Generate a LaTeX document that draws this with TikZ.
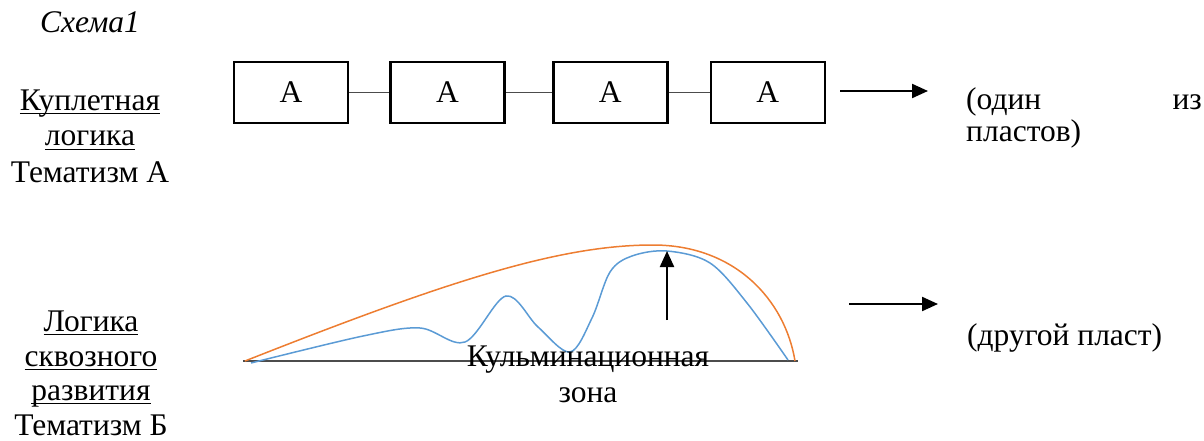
\documentclass[tikz,border=0pt]{standalone}
\usepackage{amsmath}
\usepackage{fontspec}
\setmainfont{Liberation Serif}
\usetikzlibrary{arrows.meta,positioning}

\newcommand{\podch}[1]{\underline{\smash[b]{#1}}}

\begin{document}
\begin{tikzpicture}[x=1pt,y=-1pt,font=\fontsize{31.5}{36}\selectfont,
		>={Triangle[length=16pt,width=14pt]},
		blok/.style={draw,line width=2.6pt,minimum width=114pt,minimum height=61pt,inner sep=0pt},
		svyaz/.style={draw=black!70,line width=1.6pt},
		strelka/.style={->,line width=2.2pt},
		podpis/.style={align=center,inner sep=0pt,anchor=base},
		tekst/.style={inner sep=0pt}]
	\useasboundingbox (0,0) rectangle (1204,441);

			\node[tekst, anchor=base] (shema) at (90,33) {\itshape Схема1};
			\node[podpis] (kuplet) at (90,182) {\podch{Куплетная}\\\podch{логика}\\Тематизм А};
			\node[podpis, font=\fontsize{31.5}{34.5}\selectfont] (skvoz) at (91,435)
				{\podch{Логика}\\\podch{сквозного}\\\podch{развития}\\Тематизм Б};

			\node[blok] (a1) at (291,92.5) {А};
			\node[blok] (a2) [right=40pt of a1] {А};
			\node[blok] (a3) [right=46pt of a2] {А};
			\node[blok] (a4) [right=41pt of a3] {А};

			\draw[svyaz] (a1) -- (a2)
						 (a2) -- (a3)
						 (a3) -- (a4);

			\coordinate (s1) at (840,91);
			\coordinate (s2) at (928,91);
			\draw[strelka] (s1) -- (s2);

			\node[tekst, anchor=base west] (odin) at (966,110) {(один};
			\node[tekst, anchor=base east] (iz) at (1202,110) {из};
			\node[tekst, anchor=base west] (plastov) at (966,142) {пластов)};

			\coordinate (o1) at (243,361);
			\coordinate (o2) at (798,361);
			\draw[svyaz, line width=1.4pt] (o1) -- (o2);

			\draw[color={rgb,255:red,237;green,125;blue,49}, line width=1.5pt]
				(245,361) .. controls (450,280) and (560,245) .. (653,245)
				.. controls (735,245) and (785,300) .. (795,361);
			\draw[color={rgb,255:red,91;green,155;blue,213}, line width=1.5pt]
				plot[smooth, tension=0.55] coordinates {(251,363) (363,336) (420,328) (465,342)
					(506,296) (538,327) (570,352) (592,318) (610,272) (632,256) (667,251)
					(710,263) (747,303) (788,360)};

			\coordinate (k1) at (667,320);
			\coordinate (k2) at (667,251);
			\draw[strelka] (k1) -- (k2);
			\node[podpis] (kulm) at (588,402) {Кульминационная\\зона};

			\coordinate (s3) at (849,304);
			\coordinate (s4) at (938,304);
			\draw[strelka] (s3) -- (s4);
			\node[tekst, anchor=base west] (drugoj) at (967,345) {(другой пласт)};

\end{tikzpicture}
\end{document}
